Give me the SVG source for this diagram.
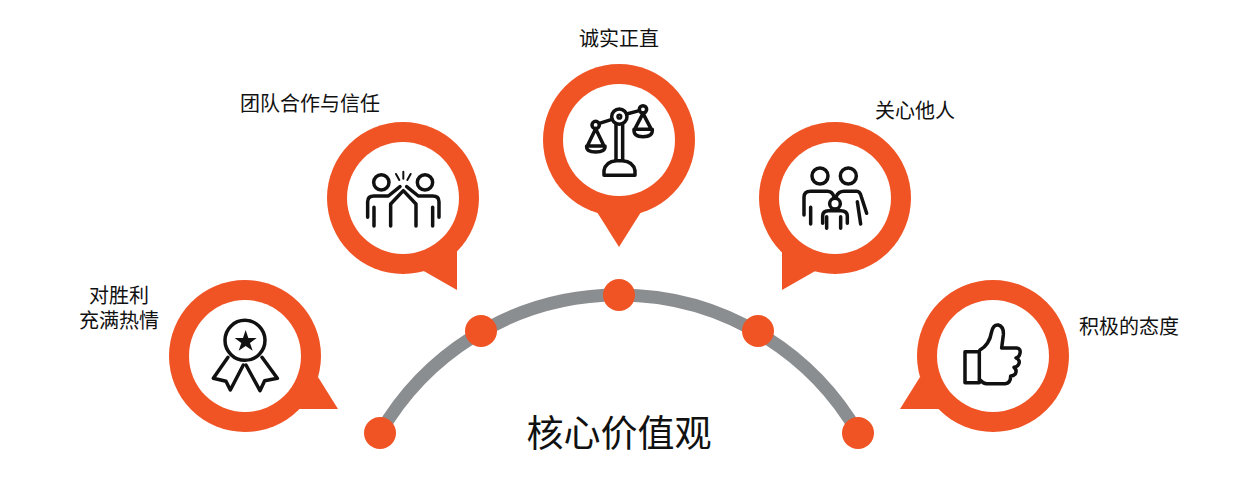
<svg xmlns="http://www.w3.org/2000/svg" width="1240" height="502" viewBox="0 0 1240 502">
<style>
.o{fill:#f05324}.w{fill:#fff}
.i{fill:none;stroke:#111;stroke-width:10.5;stroke-linecap:round;stroke-linejoin:round}
.t{font-family:"Noto Sans CJK SC","Liberation Sans",sans-serif;font-size:20px;fill:#111;text-anchor:middle}
</style>
<rect width="1240" height="502" fill="#fff"/>
<g id="connectors">
<path d="M380 433A276 276 0 0 1 858 433" fill="none" stroke="#8b8e90" stroke-width="13"/>
</g>
<g id="dots" class="o">
<circle cx="380" cy="433" r="16"/><circle cx="481" cy="331" r="16"/><circle cx="619" cy="295" r="16"/><circle cx="758" cy="331" r="16"/><circle cx="858" cy="433" r="16"/>
</g>
<g id="node-enthusiasm">
<path class="o" d="M318 377L338 409H298Z"/><circle class="o" cx="245" cy="356" r="76"/><circle class="w" cx="245" cy="356" r="56"/>
<g transform="translate(160 270) scale(.3333)">
<g class="i"><circle cx="255" cy="211" r="60"/>
<path d="M204 262L160 325L198 334L211 360L250 285"/><path d="M306 262L352 325L314 332L300 362L258 285"/></g>
<path fill="#111" d="M257 180L265 204H290L270 219L278 242L257 228L236 242L244 219L224 204H249Z"/>
</g>
<text class="t" x="119" y="303"><tspan x="119">对胜利</tspan><tspan x="119" dy="25">充满热情</tspan></text>
</g>
<g id="node-teamwork">
<path class="o" d="M457 250V290L422 270Z"/><circle class="o" cx="403" cy="198" r="76"/><circle class="w" cx="403" cy="198" r="56"/>
<g transform="translate(320 120) scale(.3333)" class="i">
<circle cx="184" cy="187" r="23"/><circle cx="315" cy="187" r="23"/>
<path d="M162 318V262M143 292V245Q143 228 162 228H205L240 200"/>
<path d="M338 318V262M357 292V245Q357 228 338 228H295L260 200"/>
<path d="M212 318V252L250 212L288 252V318"/>
<path d="M250 155V176M228 162L238 180M272 162L262 180" stroke-width="6"/>
</g>
<text class="t" x="310" y="111">团队合作与信任</text>
</g>
<g id="node-integrity">
<path class="o" d="M597 212H641L619 247Z"/><circle class="o" cx="619" cy="140" r="76"/><circle class="w" cx="619" cy="140" r="56"/>
<g transform="translate(535 60) scale(.3333)" class="i">
<circle cx="253" cy="170" r="23"/><circle cx="253" cy="170" r="4"/>
<circle cx="182" cy="195" r="11"/><circle cx="324" cy="148" r="11"/>
<path d="M193 190L231 178M275 162L313 152"/>
<path d="M243 193V300M263 193V300"/>
<path d="M207 346H300V332Q295 304 262 302H244Q212 304 207 332Z"/>
<path d="M182 206L157 258M182 206L207 258M155 258H210Q212 276 182 276Q153 276 155 258Z"/>
<path d="M324 160L299 208M324 160L349 208M297 208H352Q354 230 324 230Q295 230 297 208Z"/>
</g>
<text class="t" x="619" y="46">诚实正直</text>
</g>
<g id="node-care">
<path class="o" d="M782 250V290L817 270Z"/><circle class="o" cx="835" cy="198" r="76"/><circle class="w" cx="835" cy="198" r="56"/>
<g transform="translate(750 120) scale(.3333)" class="i">
<circle cx="210" cy="168" r="24"/><circle cx="295" cy="168" r="24"/><circle cx="255" cy="251" r="16"/>
<path d="M182 312V262M162 285V232Q162 214 182 214H232Q246 214 252 230"/>
<path d="M258 230Q266 214 282 214H320Q330 214 334 230L350 280M322 245L332 312"/>
<path d="M230 325V290M272 325V290M218 310V288Q218 272 236 272H272Q292 272 292 288V310"/>
</g>
<text class="t" x="915" y="118">关心他人</text>
</g>
<g id="node-positive">
<path class="o" d="M920 377L900 409H942Z"/><circle class="o" cx="993" cy="356" r="76"/><circle class="w" cx="993" cy="356" r="56"/>
<g transform="translate(890 270) scale(.3333)" class="i">
<path d="M225 245H268V338H225Z"/>
<path d="M270 240Q298 225 305 185Q310 163 325 165Q342 170 340 195L335 234H380Q393 236 390 250Q388 262 378 264Q392 270 386 283Q382 292 372 292Q382 300 376 312Q370 318 362 318Q362 340 345 341H290Q280 341 270 330"/>
</g>
<text class="t" x="1129" y="334">积极的态度</text>
</g>
<text x="619" y="447" font-family="'Noto Sans CJK SC','Liberation Sans',sans-serif" font-size="37" text-anchor="middle" fill="#111">核心价值观</text>
</svg>
